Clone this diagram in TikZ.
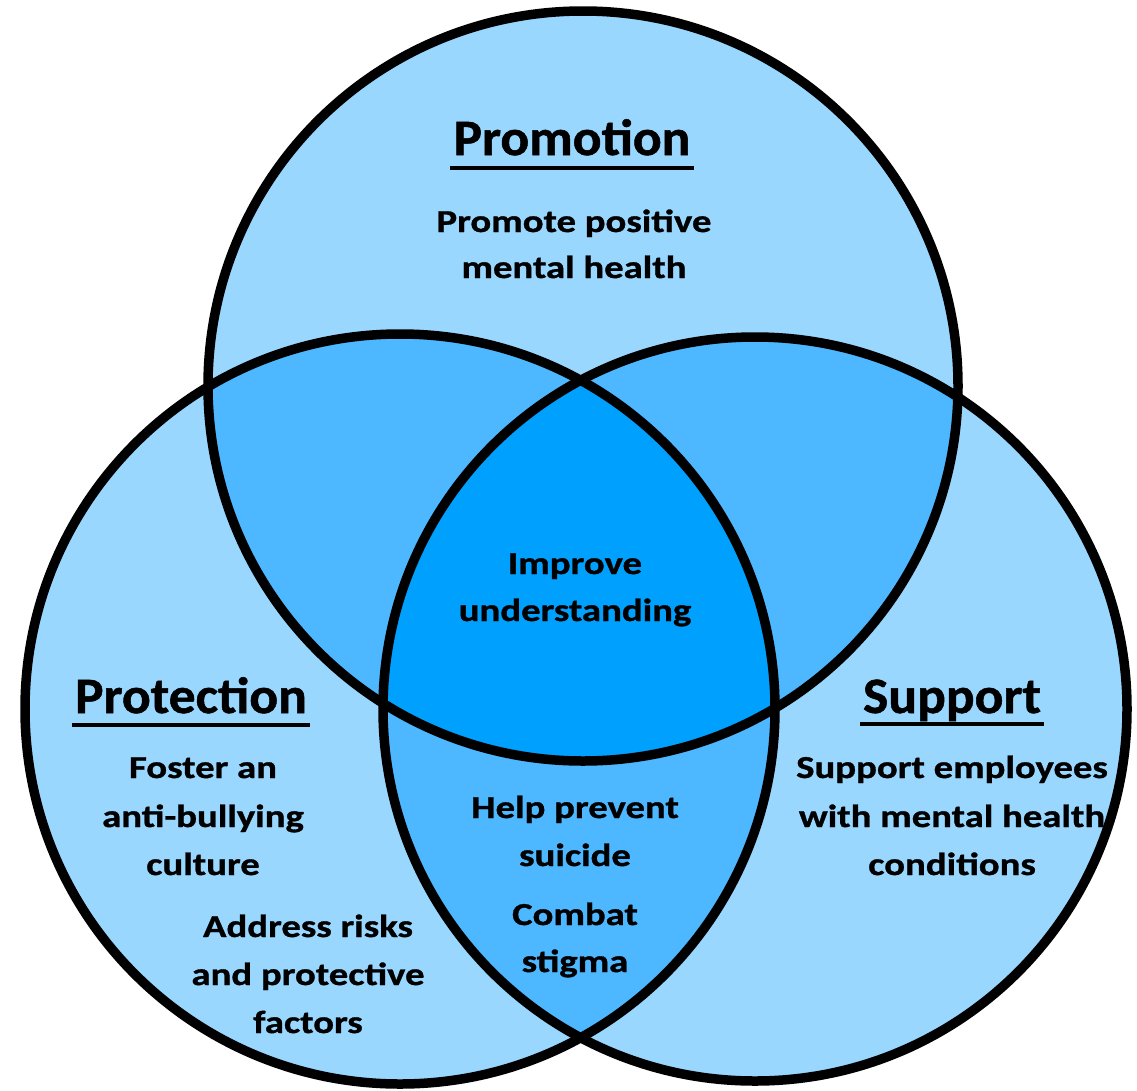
\documentclass[tikz,border=0pt]{standalone}
\usepackage{fontspec}
\setmainfont{Carlito}
\newfontfamily\bodyfont{Carlito}[FakeStretch=1.21,FakeBold=1]
\newfontfamily\headfont{Carlito}[FakeStretch=1.05,FakeBold=1]
\definecolor{lite}{RGB}{153,215,255}
\definecolor{mid}{RGB}{77,183,255}
\definecolor{dark}{RGB}{0,160,255}
\begin{document}
\begin{tikzpicture}[x=1pt,y=-1pt,
  ring/.style={draw=black,line width=9.5pt},
  head/.style={font=\headfont\bfseries\fontsize{51}{60}\selectfont,inner sep=0pt,anchor=base},
  txt/.style={font=\bodyfont\bfseries\fontsize{32}{40}\selectfont,inner sep=0pt,anchor=base},
  uline/.style={line width=3.5pt}]
\useasboundingbox (0,0) rectangle (1137,1090);
\coordinate (T) at (583,386);
\coordinate (L) at (400,709);
\coordinate (R) at (755,709);
% base fills
\fill[lite] (T) circle (375pt);
\fill[lite] (L) circle (375pt);
\fill[lite] (R) circle (372pt);
% pairwise overlaps
\begin{scope}
  \clip (T) circle (375pt);
  \fill[mid] (L) circle (375pt);
  \fill[mid] (R) circle (372pt);
\end{scope}
\begin{scope}
  \clip (L) circle (375pt);
  \fill[mid] (R) circle (372pt);
\end{scope}
% triple overlap
\begin{scope}
  \clip (T) circle (375pt);
  \clip (L) circle (375pt);
  \fill[dark] (R) circle (372pt);
\end{scope}
% outlines
\draw[ring] (T) circle (375pt);
\draw[ring] (L) circle (375pt);
\draw[ring] (R) circle (372pt);
% Promotion
\node[head] (hP) at (572,155) {Promotion};
\draw[uline] ([xshift=-3pt,yshift=-13pt]hP.base west) -- ([xshift=3pt,yshift=-13pt]hP.base east);
\node[txt] (p1) at (574,232) {Promote positive};
\node[txt] (p2) at (574,278) {mental health};
% centre
\node[txt] (c1) at (575,574) {Improve};
\node[txt] (c2) at (575,621) {understanding};
% Protection
\node[head] (hL) at (191,713) {Protection};
\draw[uline] ([xshift=-3pt,yshift=-12pt]hL.base west) -- ([xshift=3pt,yshift=-12pt]hL.base east);
\node[txt] (l1) at (203,778) {Foster an};
\node[txt] (l2) at (203,827) {anti-bullying};
\node[txt] (l3) at (203,875) {culture};
\node[txt] (l4) at (308,937) {Address risks};
\node[txt] (l5) at (308,985) {and protective};
\node[txt] (l6) at (308,1033) {factors};
% bottom lens
\node[txt] (b1) at (575,818) {Help prevent};
\node[txt] (b2) at (575,866) {suicide};
\node[txt] (b3) at (575,925) {Combat};
\node[txt] (b4) at (575,972) {stigma};
% Support
\node[head] (hR) at (952,713) {Support};
\draw[uline] ([xshift=-3pt,yshift=-11pt]hR.base west) -- ([xshift=3pt,yshift=-11pt]hR.base east);
\node[txt] (r1) at (952,778) {Support employees};
\node[txt] (r2) at (952,827) {with mental health};
\node[txt] (r3) at (952,875) {conditions};
\end{tikzpicture}
\end{document}
